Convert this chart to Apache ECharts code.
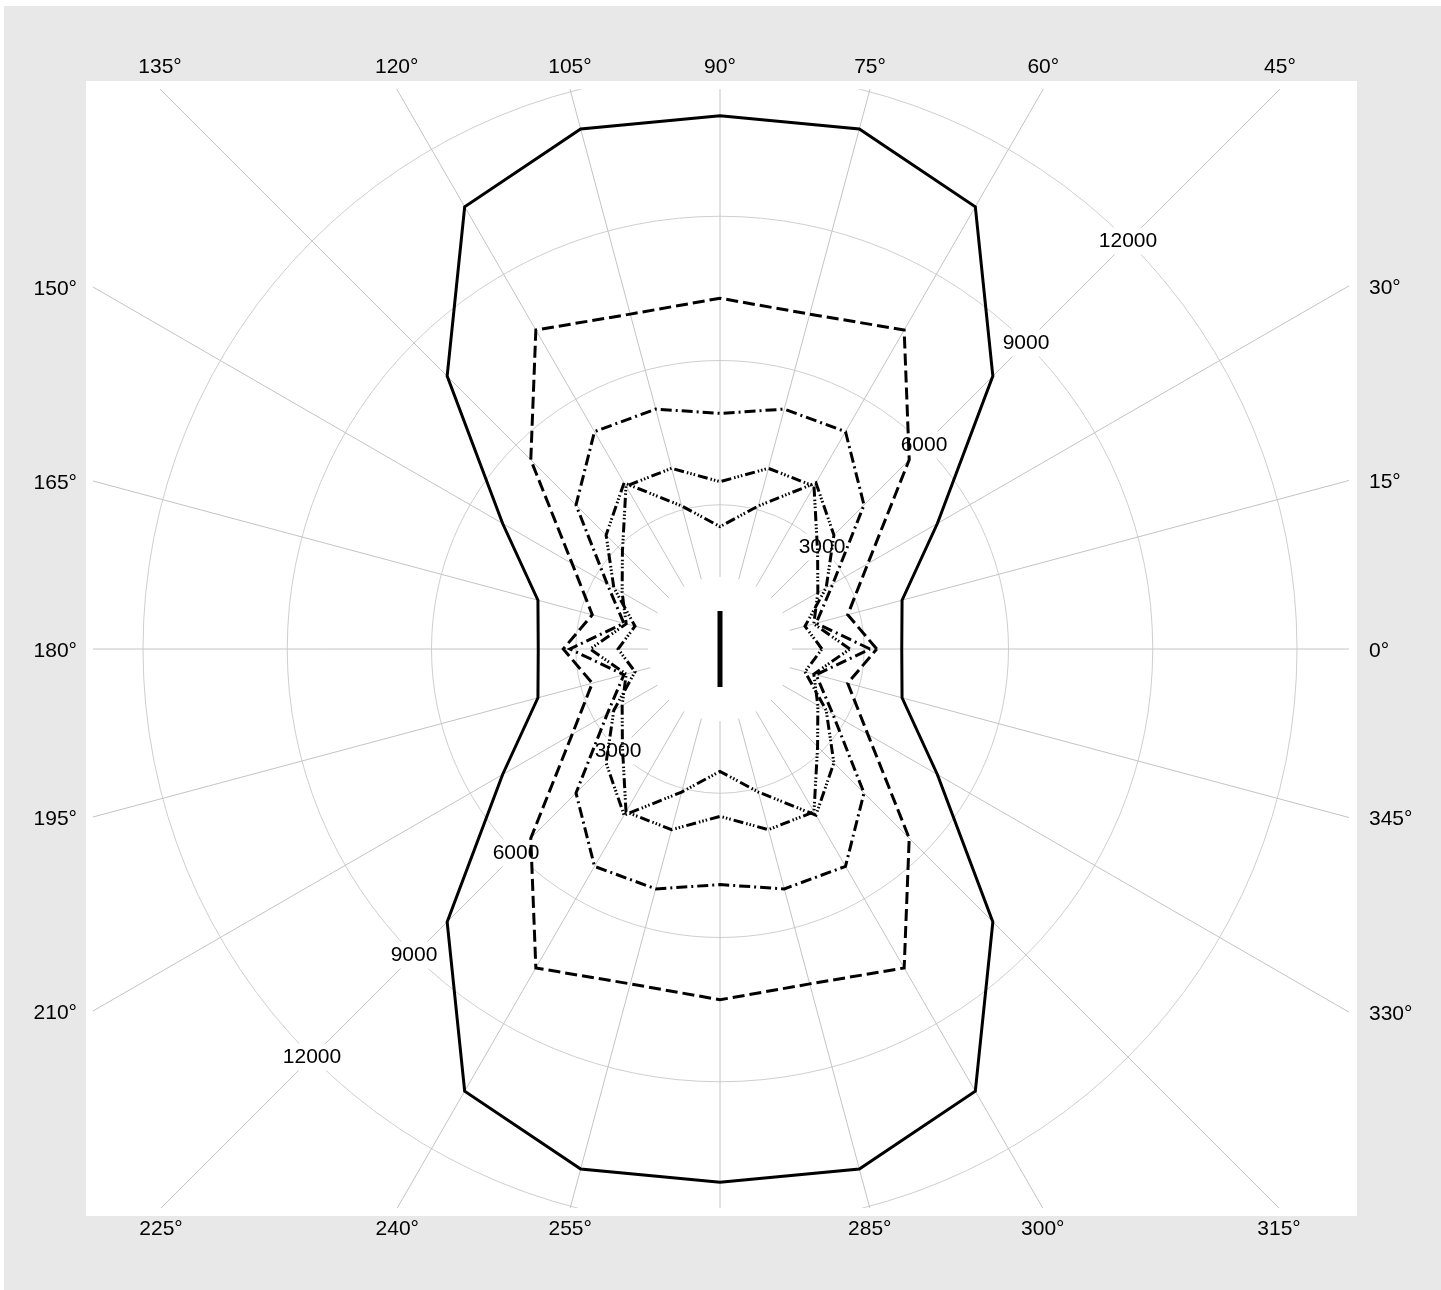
<!DOCTYPE html>
<html><head><meta charset="utf-8">
<script src="https://cdn.jsdelivr.net/npm/echarts@6/dist/echarts.min.js"></script>
<style>html,body{margin:0;padding:0;background:#fff}#c{width:1441px;height:1290px}</style>
</head><body><div id="c"></div>
<script>
// ---- data ----
const angles = [0,15,30,45,60,75,90,105,120,135,150,165,180,195,210,225,240,255,270,285,300,315,330,345];
const solidVals   = [3780,3920,5220,8025,10620,11195,11090,11195,10620,8025,5220,3920,3780,3920,5220,8025,10620,11195,11090,11195,10620,8025,5220,3920];
const dashedVals  = [3260,2750,3550,5565,7660,7210,7295,7210,7660,5565,3550,2750,3260,2750,3550,5565,7660,7210,7295,7210,7660,5565,3550,2750];
const dashDotVals = [3120,2070,2710,4235,5220,5165,4900,5165,5220,4235,2710,2070,3120,2070,2710,4235,5220,5165,4900,5165,5220,4235,2710,2070];
const dashDotsAVals = [2700,2020,2350,2870,3910,3890,3480,3890,3910,2870,2350,2020,2700,2020,2350,2870,3910,3890,3480,3890,3910,2870,2350,2020];
const dashDotsBVals = [2120,1830,2550,3350,3990,3080,2545,3080,3990,3350,2550,1830,2120,1830,2550,3350,3990,3080,2545,3080,3990,3350,2550,1830];
const dipoleR = [790, 790];
const dipoleAngle = [90, 270];
const radiusTicks = [3000, 6000, 9000, 12000];
const radiusLabelAngles = [45, 225];
const angleTicks = [0,15,30,45,60,75,90,105,120,135,150,165,180,195,210,225,240,255,285,300,315,330,345];

// ---- layout ----
const CX = 720, CY = 649;
const RMAX = 12000, RPX = 577;
const panel = {x0: 86, y0: 81, x1: 1357, y1: 1216};
const inset = {x0: 93, y0: 89, x1: 1349, y1: 1208};
const FONT = "'Liberation Sans', Arial, sans-serif";
const FS = 21;
const GREY = '#e8e8e8';

function closed(vals) {
  const d = angles.map((a, i) => [vals[i], a]);
  d.push([vals[0], 360]);
  return d;
}
const dipoleData = dipoleR.map((r, i) => [r, dipoleAngle[i]]);
const radiusLabelData = [];
radiusLabelAngles.forEach(a => radiusTicks.forEach(r => radiusLabelData.push([r, a])));

// angle labels placed where each ray leaves the inner frame
const angleLabelGraphics = angleTicks.map(a => {
  const rad = a * Math.PI / 180;
  const dx = Math.cos(rad), dy = -Math.sin(rad);
  const tx = Math.abs(dx) < 1e-9 ? Infinity : (dx > 0 ? (inset.x1 - CX) / dx : (inset.x0 - CX) / dx);
  const ty = Math.abs(dy) < 1e-9 ? Infinity : (dy < 0 ? (inset.y0 - CY) / dy : (inset.y1 - CY) / dy);
  let x, y, align;
  if (ty < tx) {
    x = CX + ty * dx; align = 'center';
    y = dy < 0 ? 67 : 1229;
  } else {
    y = CY + tx * dy + 2;
    if (dx > 0) { x = 1369; align = 'left'; } else { x = 77; align = 'right'; }
  }
  return {type: 'text', x: x, y: y, z: 101, silent: true,
    style: {text: a + '°', fill: '#000', fontSize: FS, fontFamily: FONT, align: align, verticalAlign: 'middle'}};
});

const frame = [
  {type:'rect', shape:{x:4, y:6, width:1441, height:75}, style:{fill:GREY}, z:100, silent:true},
  {type:'rect', shape:{x:4, y:1216, width:1441, height:80}, style:{fill:GREY}, z:100, silent:true},
  {type:'rect', shape:{x:4, y:81, width:82, height:1135}, style:{fill:GREY}, z:100, silent:true},
  {type:'rect', shape:{x:1357, y:81, width:90, height:1135}, style:{fill:GREY}, z:100, silent:true},
  {type:'rect', shape:{x:0, y:0, width:1441, height:6}, style:{fill:'#fff'}, z:100, silent:true},
  {type:'rect', shape:{x:0, y:0, width:4, height:1290}, style:{fill:'#fff'}, z:100, silent:true},
  {type:'rect', shape:{x:panel.x0, y:panel.y0, width:panel.x1-panel.x0, height:inset.y0-panel.y0}, style:{fill:'#fff'}, z:100, silent:true},
  {type:'rect', shape:{x:panel.x0, y:inset.y1, width:panel.x1-panel.x0, height:panel.y1-inset.y1}, style:{fill:'#fff'}, z:100, silent:true},
  {type:'rect', shape:{x:panel.x0, y:panel.y0, width:inset.x0-panel.x0, height:panel.y1-panel.y0}, style:{fill:'#fff'}, z:100, silent:true},
  {type:'rect', shape:{x:inset.x1, y:panel.y0, width:panel.x1-inset.x1, height:panel.y1-panel.y0}, style:{fill:'#fff'}, z:100, silent:true}
];

const chart = echarts.init(document.getElementById('c'), null, {renderer: 'canvas'});
const lineBase = (data, type, width) => ({
  type: 'line', coordinateSystem: 'polar', polarIndex: 1, data: data,
  symbol: 'none', z: 3, silent: true,
  lineStyle: {color: '#000', width: width, type: type, cap: 'butt', join: 'miter'}
});

chart.setOption({
  backgroundColor: '#fff',
  animation: false,
  polar: [
    {center: [CX, CY], radius: [1500 * RPX / RMAX, 18000 * RPX / RMAX]},
    {center: [CX, CY], radius: [0, RPX]}
  ],
  angleAxis: [
    {polarIndex: 0, type: 'value', min: 0, max: 360, interval: 15, startAngle: 0, clockwise: false,
     axisLine: {show: false}, axisTick: {show: false}, axisLabel: {show: false},
     splitLine: {show: true, lineStyle: {color: '#c4c4c4', width: 1}}},
    {polarIndex: 1, type: 'value', min: 0, max: 360, interval: 15, startAngle: 0, clockwise: false,
     axisLine: {show: false}, axisTick: {show: false}, axisLabel: {show: false},
     splitLine: {show: false}}
  ],
  radiusAxis: [
    {polarIndex: 0, type: 'value', min: 1500, max: 18000,
     axisLine: {show: false}, axisTick: {show: false}, axisLabel: {show: false}, splitLine: {show: false}},
    {polarIndex: 1, type: 'value', min: 0, max: RMAX, interval: 3000,
     axisLine: {show: false}, axisTick: {show: false}, axisLabel: {show: false},
     splitLine: {show: true, lineStyle: {color: '#cfcfcf', width: 1}}}
  ],
  series: [
    {type: 'scatter', coordinateSystem: 'polar', polarIndex: 1, data: radiusLabelData,
     symbolSize: 1, itemStyle: {color: 'rgba(0,0,0,0)', opacity: 1}, z: 2, silent: true,
     label: {show: true, position: 'inside', formatter: p => String(p.value[0]), opacity: 1,
       color: '#000', fontSize: FS, fontFamily: FONT, backgroundColor: '#fff', padding: [3, 2]}},
    lineBase(closed(solidVals), 'solid', 3),
    lineBase(closed(dashedVals), [12, 5], 3),
    lineBase(closed(dashDotVals), [11, 4, 2, 4], 3),
    lineBase(closed(dashDotsAVals), [10, 3, 1.5, 2, 1.5, 2, 1.5, 3], 3),
    lineBase(closed(dashDotsBVals), [10, 3, 1.5, 2, 1.5, 2, 1.5, 3], 3),
    lineBase(dipoleData, 'solid', 5)
  ],
  graphic: frame.concat(angleLabelGraphics)
});
</script></body></html>
